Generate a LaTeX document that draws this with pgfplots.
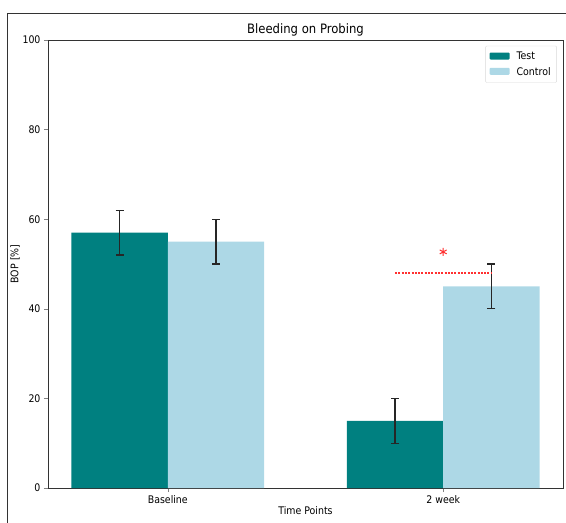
\documentclass[border=0pt]{standalone}
\usepackage{pgfplots}
\pgfplotsset{compat=1.18}
\usepackage{fontspec}
\setmainfont{DejaVu Sans Condensed}
\definecolor{teal1}{HTML}{008080}
\definecolor{lblue}{HTML}{ADD8E6}
\definecolor{sigred}{HTML}{FF3030}
\begin{document}
\begin{tikzpicture}
\begin{axis}[
  scale only axis,
  width=515bp, height=448bp,
  xmin=-0.435, xmax=1.435,
  ymin=0, ymax=100,
  xtick={0,1}, xticklabels={Baseline,2 week},
  ytick={0,20,40,60,80,100},
  tick align=outside, tick pos=left,
  major tick length=4bp,
  /pgf/number format/assume math mode=true,
  tick label style={font=\fontsize{10.5}{12}\selectfont},
  xlabel={Time Points}, ylabel={BOP [\%]},
  label style={font=\fontsize{10.5}{12}\selectfont},
  xlabel style={yshift=4bp},
  ylabel style={yshift=-4bp},
  title={Bleeding on Probing},
  title style={font=\fontsize{13}{15}\selectfont, yshift=-6bp},
  axis line style={draw=black!80},
  legend style={at={(0.988,0.987)}, anchor=north east, font=\fontsize{10.5}{12}\selectfont, draw=black!15, rounded corners=1pt, row sep=2pt, inner xsep=4pt, inner ysep=4pt},
  legend image code/.code={\fill[#1] (0bp,-3bp) rectangle (20bp,4bp); \path (25bp,0bp);},
  legend cell align=left,
]
\addplot[ybar, bar width=0.35, bar shift=-0.175, fill=teal1, draw=none]
  coordinates {(0,57) (1,15)};
\addlegendentry{Test}
\addplot[ybar, bar width=0.35, bar shift=0.175, fill=lblue, draw=none]
  coordinates {(0,55) (1,45)};
\addlegendentry{Control}
\addplot[draw=none, mark=none, forget plot,
  error bars/.cd, y dir=both, y explicit,
  error bar style={line width=1.3pt, black!85},
  error mark options={rotate=90, mark size=4bp, line width=1.3pt, black!85}]
  coordinates {(-0.175,57) +- (0,5) (0.825,15) +- (0,5) (0.175,55) +- (0,5) (1.175,45) +- (0,5)};
\addplot[draw=sigred, mark=none, solid, line width=1.6pt, dash pattern=on 2bp off 1.3bp, line cap=butt, forget plot] coordinates {(0.825,48) (1.175,48)};
\addplot[only marks, color=sigred, mark=asterisk, mark size=4bp, mark options={line width=1pt, color=sigred}, forget plot] coordinates {(1,52.7)};
\end{axis}
\pgfresetboundingbox
\path[use as bounding box] ([shift={(-48bp,-35bp)}]current axis.south west) rectangle ++(566bp,523bp);
\draw[black!80, line width=1pt] ([shift={(-41bp,-40bp)}]current axis.south west) -- ([shift={(-41bp,474bp)}]current axis.south west) -- ([shift={(530bp,474bp)}]current axis.south west);
\end{tikzpicture}
\end{document}
